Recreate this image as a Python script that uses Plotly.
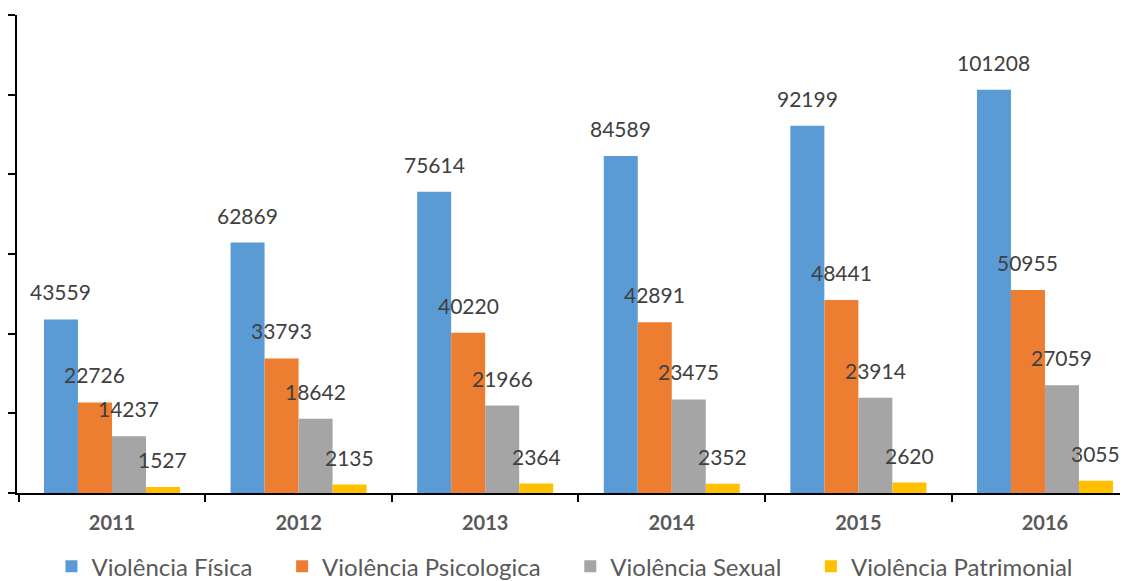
import plotly.graph_objects as go

years = ["2011", "2012", "2013", "2014", "2015", "2016"]
fisica = [43559, 62869, 75614, 84589, 92199, 101208]
psicologica = [22726, 33793, 40220, 42891, 48441, 50955]
sexual = [14237, 18642, 21966, 23475, 23914, 27059]
patrimonial = [1527, 2135, 2364, 2352, 2620, 3055]

series = [
    ("Violência Física", fisica, "#5B9BD5"),
    ("Violência Psicologica", psicologica, "#ED7D31"),
    ("Violência Sexual", sexual, "#A5A5A5"),
    ("Violência Patrimonial", patrimonial, "#FFC000"),
]

BAR_PX = 34  # width of one bar in pixels (for label offsets)
PAD = "\u00a0" * 4

fig = go.Figure()
for i, (name, vals, color) in enumerate(series):
    fig.add_trace(go.Bar(
        x=years, y=vals, name=name + PAD,
        marker=dict(color=color, line=dict(width=0)),
        cliponaxis=False,
    ))
    for j, v in enumerate(vals):
        fig.add_annotation(
            x=j, y=v, xref="x", yref="y", text=str(v), showarrow=False,
            xshift=(i - 1.5) * BAR_PX, yshift=13, yanchor="bottom",
            font=dict(family="Lato", size=21, color="#404040"),
        )

fig.update_layout(
    width=1120, height=573,
    barmode="group", bargap=0.271, bargroupgap=0,
    plot_bgcolor="white", paper_bgcolor="white",
    margin=dict(l=9, r=0, t=7, b=88, autoexpand=False),
    showlegend=True,
    legend=dict(orientation="h", x=0.508, xref="container", xanchor="center",
                y=-0.107, yanchor="top",
                font=dict(family="Lato", size=24, color="#595959"),
                itemwidth=30, traceorder="normal"),
    xaxis=dict(
        type="category", range=[-0.509, 5.445], automargin=False,
        showline=True, linecolor="black", linewidth=2,
        ticks="outside", tickson="boundaries", ticklen=7, tickwidth=2, tickcolor="black",
        ticklabelstandoff=11,
        tickfont=dict(family="Lato", size=20, color="#595959", weight="bold"),
        showgrid=False,
    ),
    yaxis=dict(
        range=[0, 120000], dtick=20000, automargin=False,
        showline=True, linecolor="black", linewidth=2,
        ticks="outside", ticklen=7, tickwidth=2, tickcolor="black",
        showticklabels=False, showgrid=False, zeroline=False,
    ),
)

fig.write_html("out.html")
